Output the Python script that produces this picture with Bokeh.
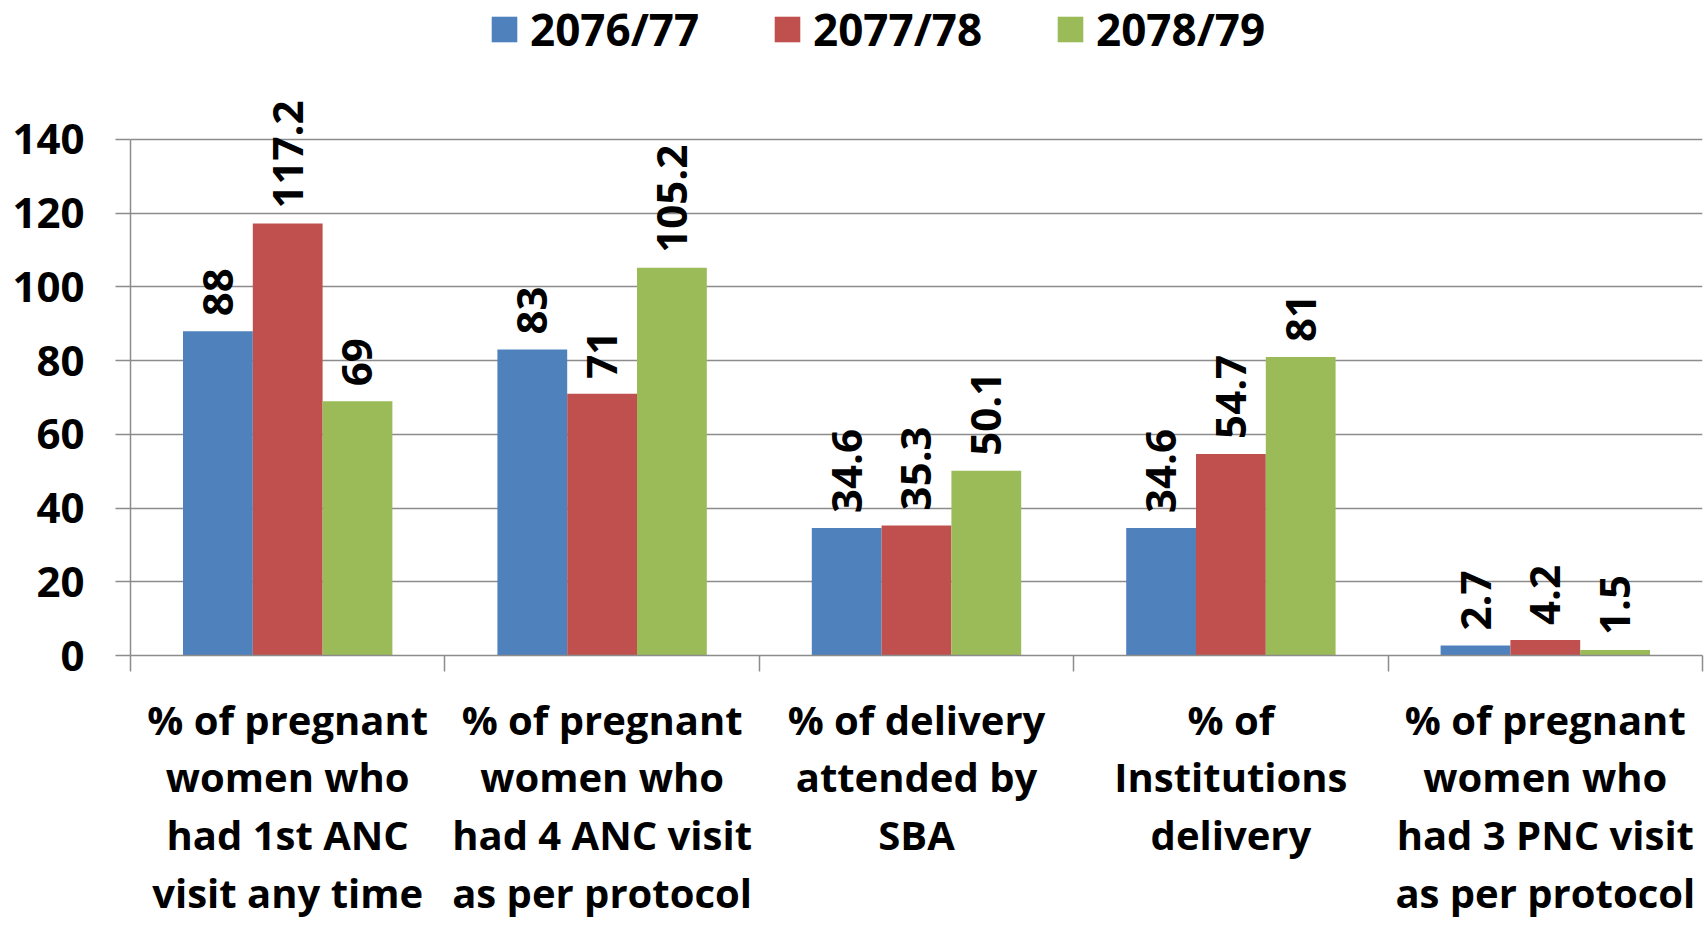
import math
from bokeh.plotting import figure
from bokeh.models import (ColumnDataSource, Range1d, FixedTicker, LabelSet,
                          Legend, LegendItem)
from bokeh.core.properties import value
from bokeh.transform import dodge
from bokeh.embed import file_html
from bokeh.resources import INLINE

# ---------------- data ----------------
categories = [
    "% of pregnant\nwomen who\nhad 1st ANC\nvisit any time",
    "% of pregnant\nwomen who\nhad 4 ANC visit\nas per protocol",
    "% of delivery\nattended by\nSBA",
    "% of\nInstitutions\ndelivery",
    "% of pregnant\nwomen who\nhad 3 PNC visit\nas per protocol",
]
series_names = ["2076/77", "2077/78", "2078/79"]
values_2076_77 = [88, 83, 34.6, 34.6, 2.7]
values_2077_78 = [117.2, 71, 35.3, 54.7, 4.2]
values_2078_79 = [69, 105.2, 50.1, 81, 1.5]
y_ticks = [0, 20, 40, 60, 80, 100, 120, 140]

colors = ["#4F81BD", "#C0504D", "#9BBB59"]
FONT = "Open Sans"
GRID = "#8C8C8C"

positions = [i + 0.5 for i in range(len(categories))]
boundaries = [float(i) for i in range(len(categories) + 1)]

# frame spans the full height above the x axis; the extra headroom above 140
# holds the legend and the rotated value labels
Y_TOP = 177.7

p = figure(width=1705, height=929, x_range=Range1d(0, len(categories)),
           y_range=Range1d(0, Y_TOP), output_backend="svg", toolbar_location=None,
           min_border_left=130, min_border_right=3, min_border_top=0,
           min_border_bottom=274)
p.outline_line_color = None
p.background_fill_color = "white"

bw = 0.222
offsets = [-bw, 0.0, bw]
all_series = [values_2076_77, values_2077_78, values_2078_79]
renderers = []
for name, vals, col, off in zip(series_names, all_series, colors, offsets):
    src = ColumnDataSource(dict(x=positions, top=vals,
                                label=[f"{v:g}" for v in vals]))
    r = p.vbar(x=dodge("x", off), top="top", width=bw, source=src,
               fill_color=col, line_color=None)
    renderers.append(r)
    lbl = LabelSet(x=dodge("x", off), y="top", text="label", source=src,
                   angle=math.pi / 2, text_align="left", text_baseline="middle",
                   x_offset=0, y_offset=15, text_font=value(FONT),
                   text_font_size="42px", text_font_style="bold",
                   text_color="black")
    p.add_layout(lbl)

# x axis: labels at centers, ticks at category boundaries (minor ticks)
xa = p.xaxis[0]
xa.ticker = FixedTicker(ticks=positions, minor_ticks=boundaries)
xa.major_label_overrides = {pos: c for pos, c in zip(positions, categories)}
xa.major_tick_line_color = None
xa.major_tick_out = 0
xa.major_tick_in = 0
xa.minor_tick_out = 16
xa.minor_tick_in = 0
xa.minor_tick_line_color = GRID
xa.minor_tick_line_width = 1.5
xa.axis_line_color = GRID
xa.axis_line_width = 1.5
xa.major_label_text_font = FONT
xa.major_label_text_font_style = "bold"
xa.major_label_text_font_size = "40px"
xa.major_label_text_line_height = 1.05
xa.major_label_standoff = 20
xa.major_label_text_color = "black"

ya = p.yaxis[0]
ya.ticker = FixedTicker(ticks=y_ticks)
ya.bounds = (0, 140)
ya.minor_tick_line_color = None
ya.major_tick_out = 15
ya.major_tick_in = 0
ya.major_tick_line_color = GRID
ya.major_tick_line_width = 1.5
ya.axis_line_color = GRID
ya.axis_line_width = 1.5
ya.major_label_text_font = FONT
ya.major_label_text_font_style = "bold"
ya.major_label_text_font_size = "42px"
ya.major_label_standoff = 31
ya.major_label_text_color = "black"

p.xgrid.grid_line_color = None
p.ygrid.ticker = FixedTicker(ticks=y_ticks)
p.ygrid.grid_line_color = GRID
p.ygrid.grid_line_width = 1.5

# legends (one per series, positioned above the bars)
legend_x = [358, 641, 924]
for name, r, lx in zip(series_names, renderers, legend_x):
    leg = Legend(items=[LegendItem(label=name, renderers=[r])],
                 location=(lx, 596), orientation="horizontal",
                 glyph_width=32, glyph_height=32, label_standoff=10,
                 padding=0, margin=0, spacing=0,
                 label_text_font=FONT, label_text_font_size="44px",
                 label_text_font_style="bold", label_text_color="black",
                 label_text_baseline="alphabetic",
                 border_line_color=None, background_fill_alpha=0)
    p.add_layout(leg)

open("out.html", "w").write(file_html(p, INLINE))
